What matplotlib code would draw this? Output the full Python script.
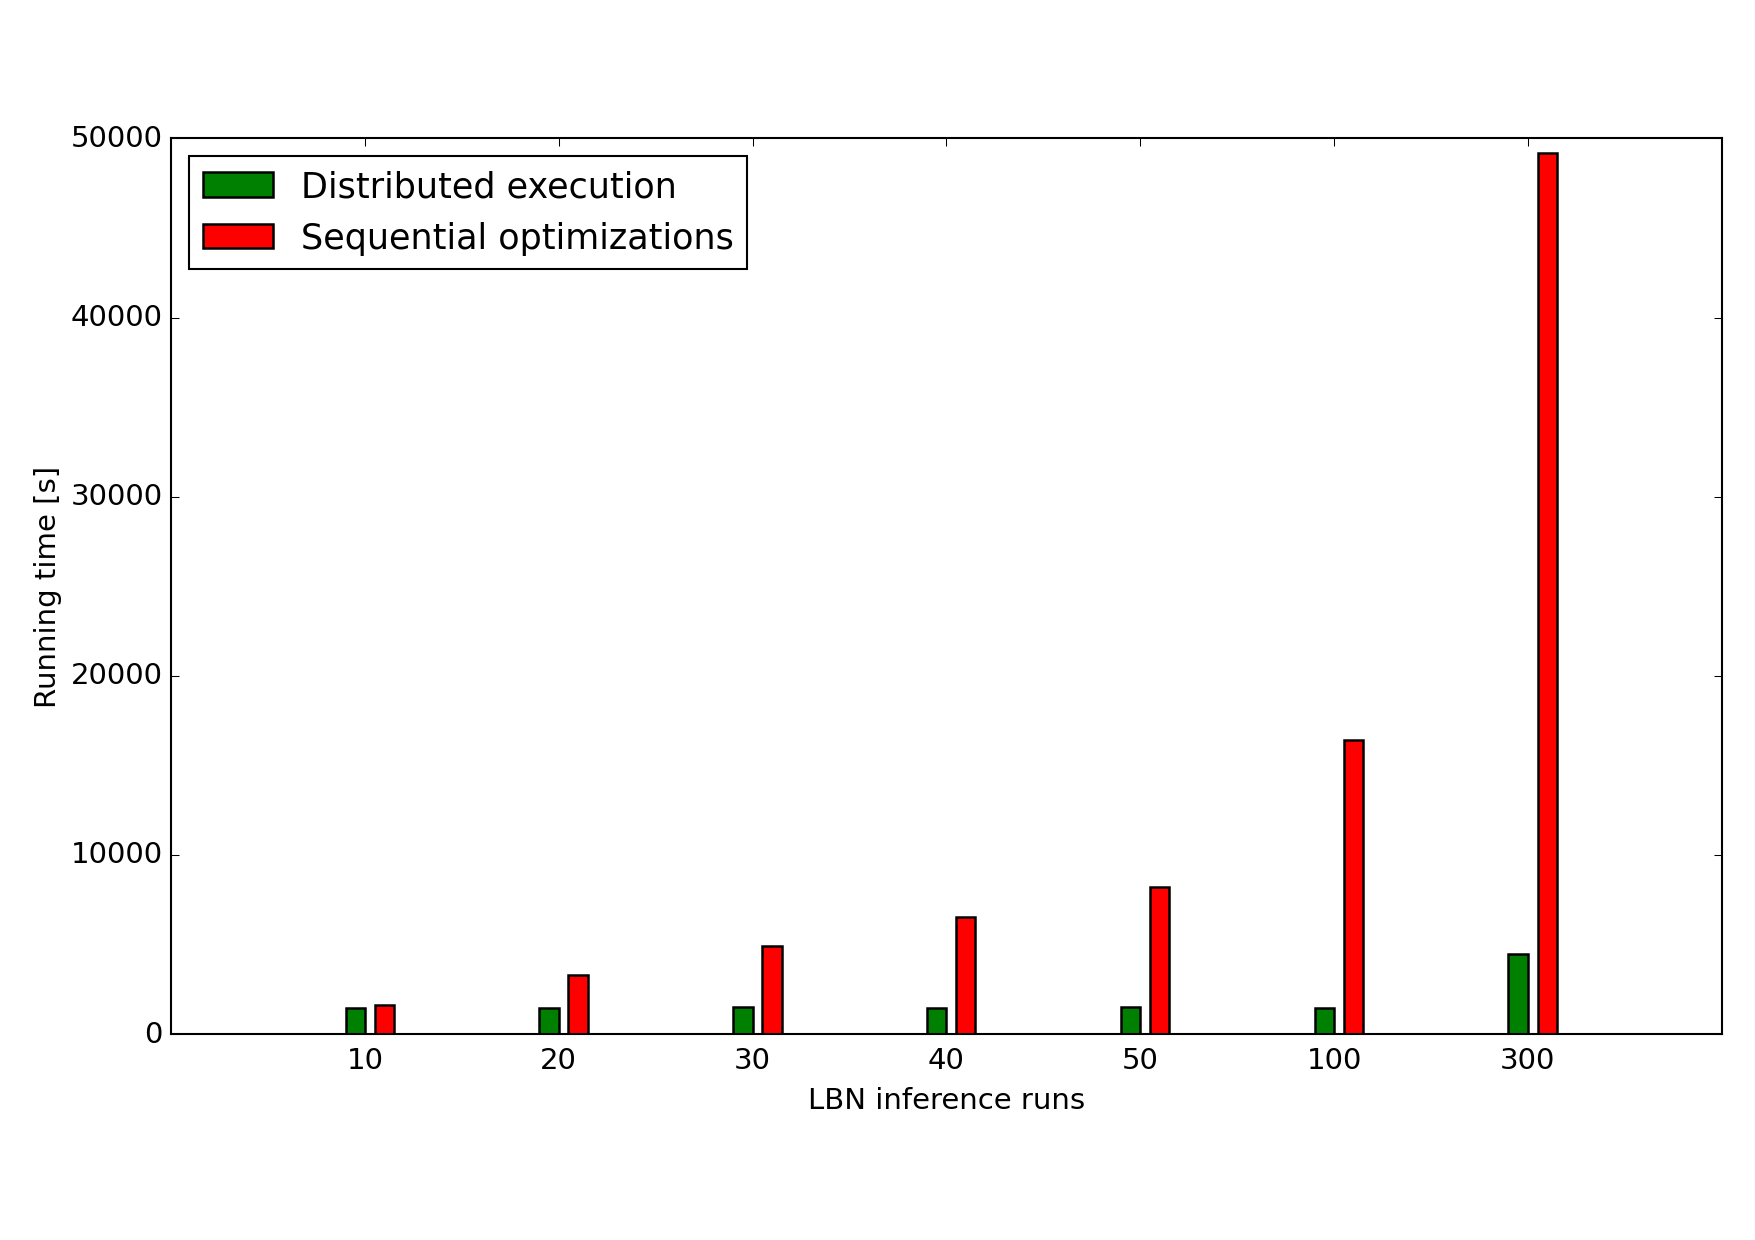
import numpy as np
import matplotlib
matplotlib.use('Agg')
import matplotlib.pyplot as plt

plt.style.use('classic')

# donnees
runs = ['10', '20', '30', '40', '50', '100', '300']
distributed = [1480, 1470, 1490, 1470, 1490, 1480, 4450]
sequential = [1650, 3300, 4920, 6560, 8190, 16400, 49200]

ind = np.arange(1, len(runs) + 1)
width = 0.1

fig = plt.figure(figsize=(11.7, 8.27), dpi=150, facecolor='white')
ax = fig.add_subplot(111)
fig.subplots_adjust(left=0.0975, right=0.981, top=0.888, bottom=0.166)

ax.bar(ind - width, distributed, width, align='edge', color='green',
       edgecolor='black', linewidth=1.2, label='Distributed execution')
ax.bar(ind + 0.05, sequential, width, align='edge', color='red',
       edgecolor='black', linewidth=1.2, label='Sequential optimizations')

ax.set_xlim(0, 8)
ax.set_ylim(0, 50000)
ax.set_xticks(ind)
ax.set_xticklabels(runs)
ax.set_yticks(np.arange(0, 50001, 10000))
ax.tick_params(labelsize=14)
ax.tick_params(axis='x', pad=6)

ax.set_xlabel('LBN inference runs', fontsize=14, labelpad=5.5)
ax.set_ylabel('Running time [s]', fontsize=14, labelpad=4)

ax.legend(loc='upper left', fontsize=16.8, fancybox=False)

fig.savefig('out.png', dpi=150, facecolor='white')
